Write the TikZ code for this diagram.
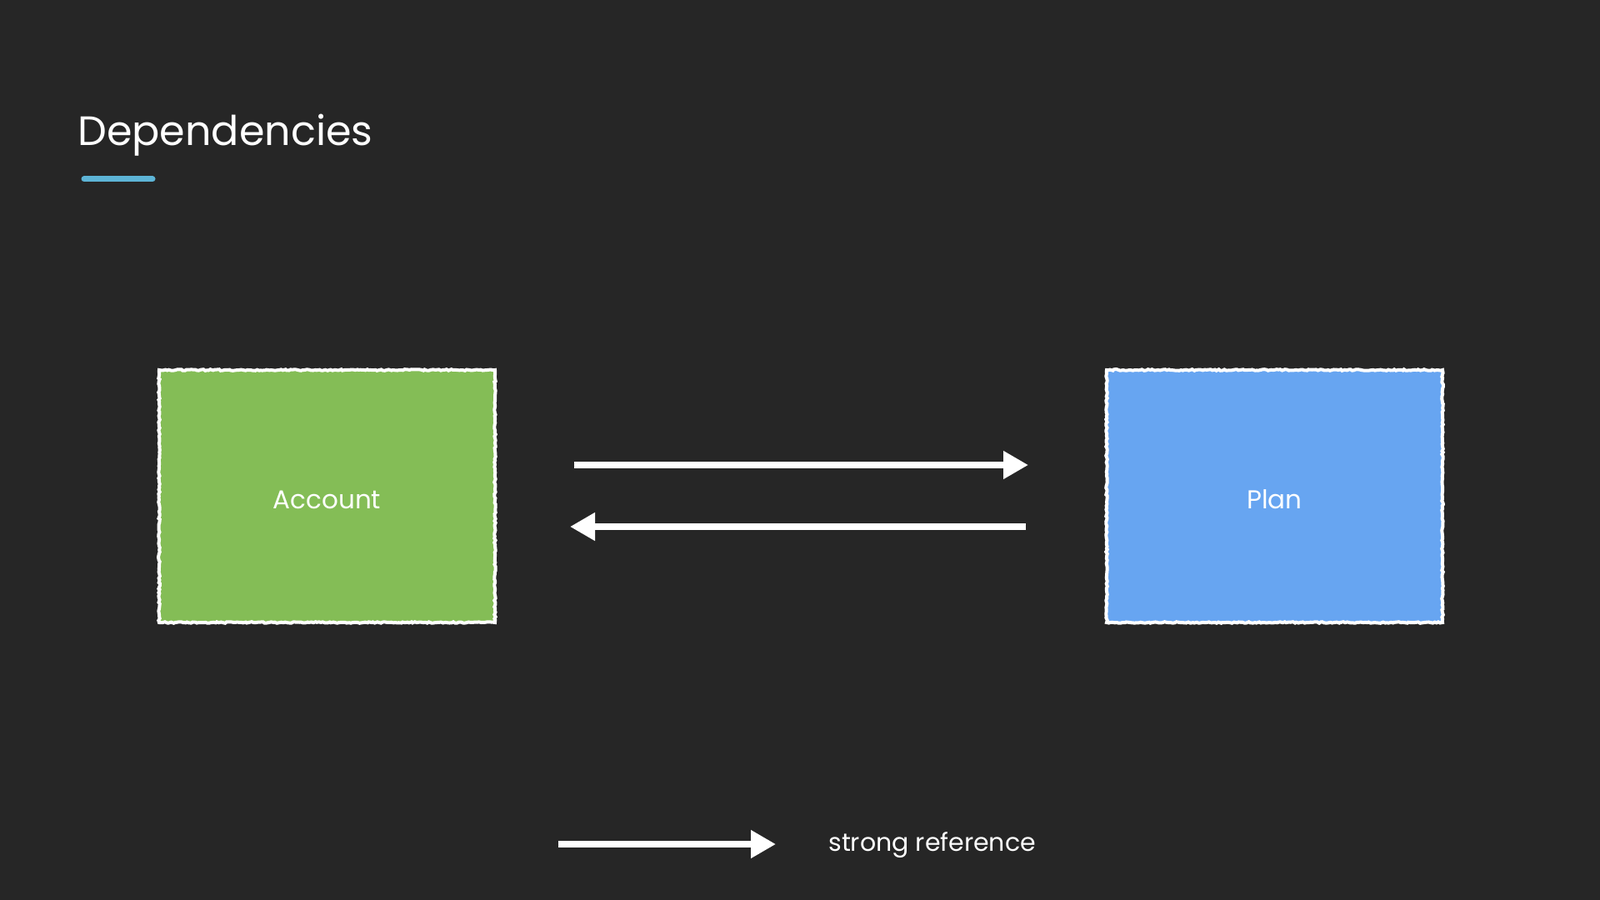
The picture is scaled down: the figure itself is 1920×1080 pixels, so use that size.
\documentclass[tikz,border=0pt]{standalone}
\usepackage{fontspec}
\setmainfont{Poppins}
\usetikzlibrary{positioning, arrows.meta, decorations.pathmorphing}

\definecolor{bgcol}{HTML}{262626}
\definecolor{accgreen}{HTML}{84BD56}
\definecolor{planblue}{HTML}{67A5F1}
\definecolor{barblue}{HTML}{5DB4D6}

\begin{document}
\begin{tikzpicture}
            [x=0.5pt, y=-0.5pt,
             box/.style={draw=white, line width=2pt, minimum width=201.5pt, minimum height=151.5pt,
                         inner sep=0pt, text=white, font=\fontsize{15.5}{19}\selectfont,
                         text height=15pt, text depth=0pt,
                         decorate, decoration={random steps, segment length=1.2pt, amplitude=0.4pt}},
             label/.style={inner sep=0pt, text=white, anchor=base west},
             ref/.style={white, line width=4pt, ->},
             >={Triangle[length=15pt, width=16pt]}]

            \fill[bgcol] (0,0) rectangle (1920,1080);
            \useasboundingbox (0,0) rectangle (1920,1080);

            \node[label, font=\fontsize{24.6}{28}\selectfont] (title) at (93,175) {Dependencies};
            \draw[barblue, line width=3.5pt, line cap=round] (101,215) -- (183,215);

            \node[box, fill=accgreen] (account) at (392.5,595.5) {Account};
            \node[box, fill=planblue] (plan) at (1529.5,595.5) {Plan};

            \draw[ref, shorten <=46.5pt, shorten >=46pt] ([yshift=18.75pt]account.east) -- ([yshift=18.75pt]plan.west);
            \draw[ref, shorten <=47.5pt, shorten >=44pt] ([yshift=-18.25pt]plan.west) -- ([yshift=-18.25pt]account.east);

            % legend
            \coordinate (legstart) at (670,1013);
            \node[label, font=\fontsize{15}{18}\selectfont] (legend) at (994,1021) {strong reference};
            \draw[ref, shorten >=31.5pt] (legstart) -- (legstart -| legend.west);
        \end{tikzpicture}
\end{document}
